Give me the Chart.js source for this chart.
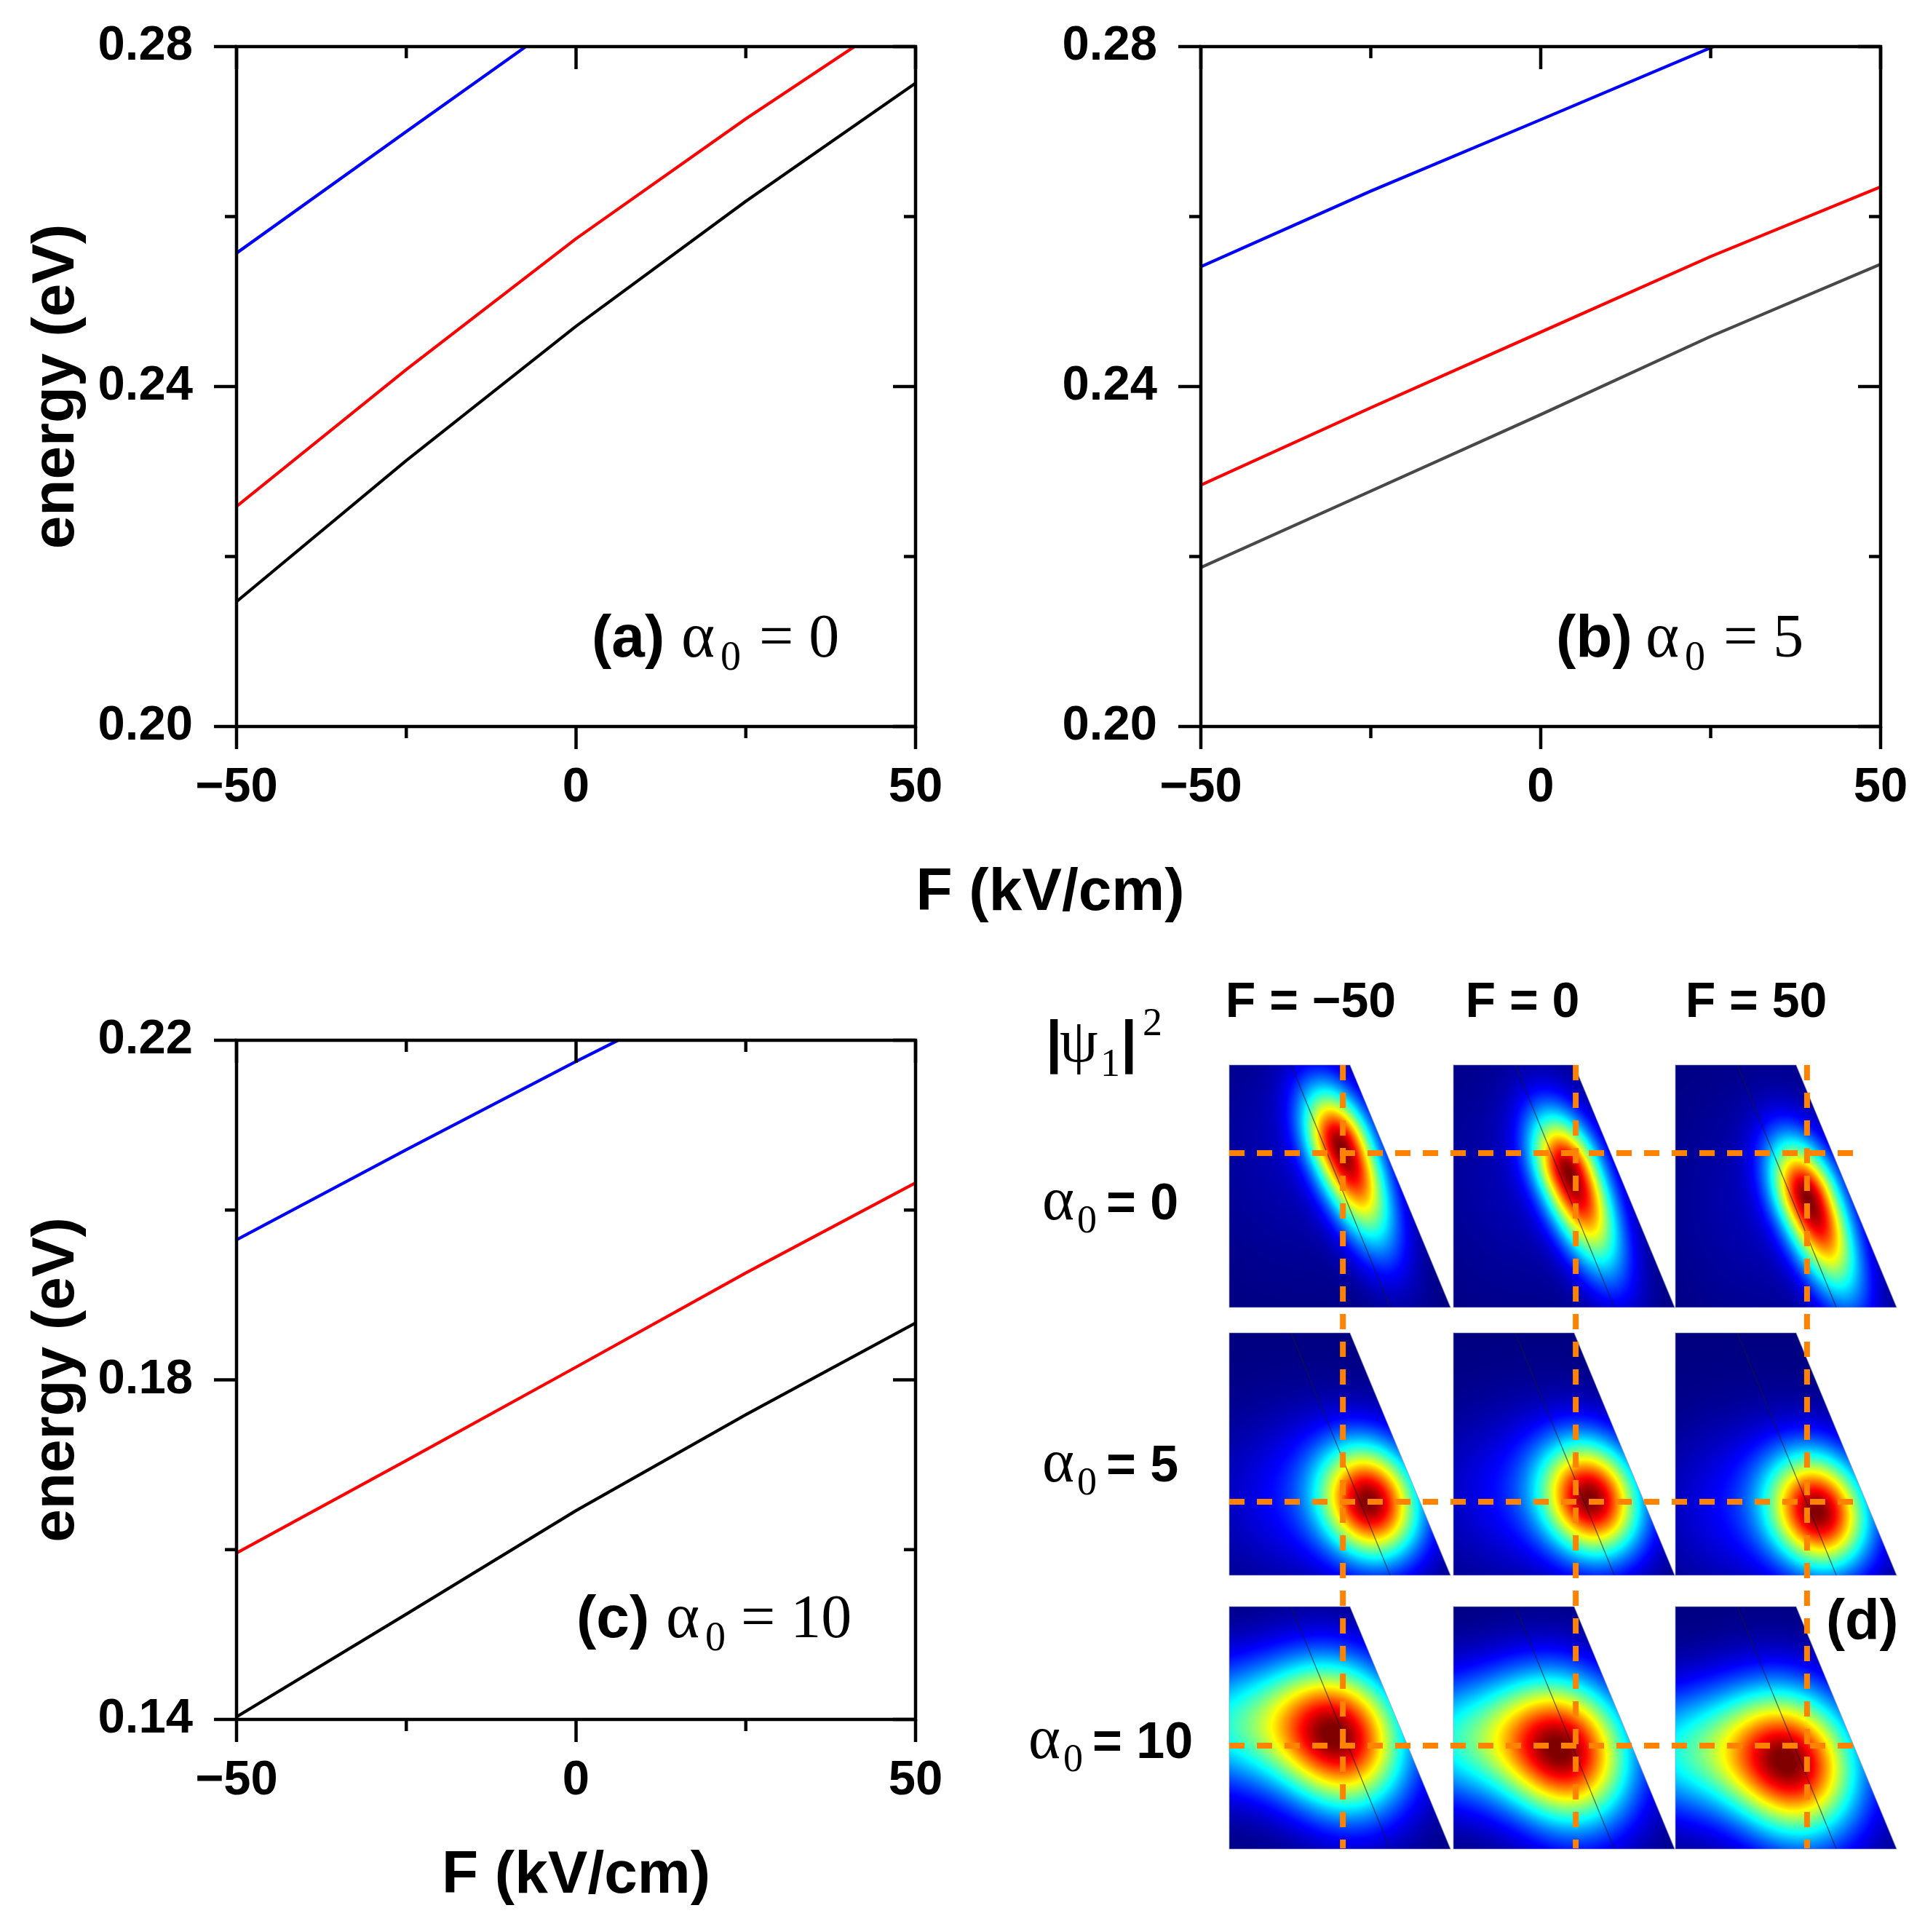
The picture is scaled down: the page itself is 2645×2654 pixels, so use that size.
<!DOCTYPE html>
<html>
<head>
<meta charset="utf-8">
<script src="https://cdn.jsdelivr.net/npm/chart.js@4.4.1/dist/chart.umd.min.js"></script>
<style>
html,body{margin:0;padding:0;background:#fff;}
#page{position:relative;width:2645px;height:2654px;overflow:hidden;background:#fff;}
canvas{position:absolute;}
svg{position:absolute;left:0;top:0;pointer-events:none;}
.sans{font-family:'Liberation Sans',Arial,sans-serif;font-weight:bold;}
.serif{font-family:'Liberation Serif','Times New Roman',serif;font-weight:normal;}
</style>
</head>
<body>
<div id="page">
<canvas id="cA" width="1320" height="1150" style="left:0px;top:0px"></canvas>
<canvas id="cB" width="1325" height="1150" style="left:1320px;top:0px"></canvas>
<canvas id="cC" width="1320" height="1354" style="left:0px;top:1300px"></canvas>
<canvas id="cD" width="1045" height="1220" style="left:1600px;top:1400px"></canvas>
<svg width="2645" height="2654" xmlns="http://www.w3.org/2000/svg">
  <text class="sans" x="1443" y="1250" font-size="82" text-anchor="middle">F (kV/cm)</text>

  <text y="902"><tspan class="sans" x="813" font-size="82">(a)</tspan><tspan class="serif" x="936" font-size="88">α</tspan><tspan class="serif" x="990" dy="18" font-size="56">0</tspan><tspan class="serif" x="1043" dy="-18" font-size="84">= 0</tspan></text>
  <text y="902"><tspan class="sans" x="2138" font-size="82">(b)</tspan><tspan class="serif" x="2261" font-size="88">α</tspan><tspan class="serif" x="2315" dy="18" font-size="56">0</tspan><tspan class="serif" x="2368" dy="-18" font-size="84">= 5</tspan></text>
  <text y="2249"><tspan class="sans" x="792" font-size="82">(c)</tspan><tspan class="serif" x="915" font-size="88">α</tspan><tspan class="serif" x="969" dy="18" font-size="56">0</tspan><tspan class="serif" x="1018" dy="-18" font-size="84">= 10</tspan></text>

  <text class="sans" x="1801" y="1397" font-size="68" text-anchor="middle">F = −50</text>
  <text class="sans" x="2092" y="1397" font-size="68" text-anchor="middle">F = 0</text>
  <text class="sans" x="2413" y="1397" font-size="68" text-anchor="middle">F = 50</text>

  <text y="1458"><tspan class="sans" x="1437" font-size="80">|</tspan><tspan class="serif" x="1456" font-size="84">ψ</tspan><tspan class="serif" x="1512" dy="20" font-size="54">1</tspan><tspan class="sans" x="1540" dy="-20" font-size="80">|</tspan><tspan class="serif" x="1570" dy="-36" font-size="54">2</tspan></text>

  <text y="1675"><tspan class="serif" x="1432" font-size="84">α</tspan><tspan class="serif" x="1480" dy="18" font-size="54">0</tspan><tspan class="sans" x="1520" dy="-18" font-size="70">= 0</tspan></text>
  <text y="2035"><tspan class="serif" x="1432" font-size="84">α</tspan><tspan class="serif" x="1480" dy="18" font-size="54">0</tspan><tspan class="sans" x="1520" dy="-18" font-size="70">= 5</tspan></text>
  <text y="2415"><tspan class="serif" x="1413" font-size="84">α</tspan><tspan class="serif" x="1461" dy="18" font-size="54">0</tspan><tspan class="sans" x="1501" dy="-18" font-size="70">= 10</tspan></text>

  <text class="sans" x="2509" y="2252" font-size="78">(d)</text>
</svg>
</div>
<script>
// ---------------- data: panels (a)-(c) ----------------
const xMajorTicks = [-50, 0, 50];
const xMinorTicks = [-25, 25];
const xTickLabels = ['−50', '0', '50'];

const yMajorAB = [0.20, 0.24, 0.28];
const yMinorAB = [0.22, 0.26];
const yLabelsAB = ['0.20', '0.24', '0.28'];
const yMajorC = [0.14, 0.18, 0.22];
const yMinorC = [0.16, 0.20];
const yLabelsC = ['0.14', '0.18', '0.22'];

// (a) alpha0 = 0
const fieldA_black = [-50, -25, 0, 25, 50];
const energyA_black = [0.2147, 0.2313, 0.2471, 0.2618, 0.2757];
const fieldA_red = [-50, -25, 0, 25, 41];
const energyA_red = [0.2259, 0.2420, 0.2574, 0.2715, 0.2800];
const fieldA_blue = [-50, -25, -7.4];
const energyA_blue = [0.2557, 0.2700, 0.2800];

// (b) alpha0 = 5
const fieldB_black = [-50, -25, 0, 25, 50];
const energyB_black = [0.2187, 0.2277, 0.2367, 0.2459, 0.2544];
const fieldB_red = [-50, -25, 0, 25, 50];
const energyB_red = [0.2284, 0.2375, 0.2464, 0.2553, 0.2635];
const fieldB_blue = [-50, -25, 0, 25.4];
const energyB_blue = [0.2541, 0.2630, 0.2714, 0.2800];

// (c) alpha0 = 10
const fieldC_black = [-50, -25, 0, 25, 50];
const energyC_black = [0.1403, 0.1524, 0.1646, 0.1759, 0.1867];
const fieldC_red = [-50, -25, 0, 25, 50];
const energyC_red = [0.1596, 0.1705, 0.1815, 0.1926, 0.2032];
const fieldC_blue = [-50, -25, 0, 6.2];
const energyC_blue = [0.1965, 0.2071, 0.2175, 0.2200];

// ---------------- data: panel (d), |psi1|^2 maps ----------------
// rows: alpha0 = 0, 5, 10 ; columns: F = -50, 0, 50 ; positions in cell-width units
const psiPeakU = [[0.507, 0.523, 0.599], [0.635, 0.622, 0.645], [0.507, 0.510, 0.533]];
const psiPeakV = [[0.375, 0.490, 0.605], [0.763, 0.750, 0.806], [0.605, 0.668, 0.724]];
const psiSpreadUp = [0.188, 0.18, 0.235];
const psiSpreadDown = [0.30, 0.18, 0.235];
const psiSpreadAcross = [0.095, 0.145, 0.19];
const haloAmp = [0.06, 0.16, 0.55];
const haloShiftU = [-0.15, -0.25, -0.36];
const haloShiftV = [0.0, -0.03, -0.07];
const haloSpreadU = [0.30, 0.30, 0.36];
const haloSpreadV = [0.35, 0.25, 0.20];
// dashed guide lines (peak positions at F = -50 / row positions)
const guideX = [0.512, 1.561, 2.603];
const guideY = [0.397, 1.967, 3.066];

// ---------------- drawing ----------------
Chart.defaults.color = '#000';
const TICK_FONT = {family: "'Liberation Sans', Arial, sans-serif", size: 67, weight: 'bold'};
const TITLE_FONT = {family: "'Liberation Sans', Arial, sans-serif", size: 82, weight: 'bold'};

function pts(xs, ys) { return xs.map((v, i) => ({x: v, y: ys[i]})); }

const frameTicks = {
  id: 'frameTicks',
  afterDatasetsDraw(chart, args, o) {
    const {ctx, chartArea: a, scales: {x, y}} = chart;
    ctx.save();
    ctx.strokeStyle = '#000';
    ctx.lineWidth = 4.5;
    ctx.lineCap = 'square';
    ctx.strokeRect(a.left, a.top, a.right - a.left, a.bottom - a.top);
    ctx.lineCap = 'butt';
    const seg = (x1, y1, x2, y2) => { ctx.beginPath(); ctx.moveTo(x1, y1); ctx.lineTo(x2, y2); ctx.stroke(); };
    const MAJ = 31, MIN = 16;
    [[o.xMajor, MAJ], [o.xMinor, MIN]].forEach(([vals, len]) => vals.forEach(v => {
      const p = x.getPixelForValue(v);
      seg(p, a.bottom, p, a.bottom + len);
      seg(p, a.top, p, a.top + len);
    }));
    [[o.yMajor, MAJ], [o.yMinor, MIN]].forEach(([vals, len]) => vals.forEach(v => {
      const p = y.getPixelForValue(v);
      seg(a.left - len, p, a.left, p);
      seg(a.right - len, p, a.right, p);
    }));
    ctx.restore();
  }
};

function energyChart(id, cfg) {
  return new Chart(document.getElementById(id), {
    type: 'line',
    data: {
      datasets: cfg.series.map(s => ({
        data: pts(s.f, s.e), borderColor: s.color, borderWidth: 4.2,
        pointRadius: 0, tension: 0, fill: false, borderJoinStyle: 'round'
      }))
    },
    options: {
      responsive: false, animation: false, devicePixelRatio: 1, events: [],
      layout: {padding: cfg.padding},
      plugins: {
        legend: {display: false}, tooltip: {enabled: false},
        frameTicks: {xMajor: xMajorTicks, xMinor: xMinorTicks, yMajor: cfg.yMajor, yMinor: cfg.yMinor}
      },
      scales: {
        x: {
          type: 'linear', min: -50, max: 50,
          grid: {display: false, drawTicks: true, tickLength: 44}, border: {display: false},
          afterBuildTicks: s => { s.ticks = xMajorTicks.map(v => ({value: v})); },
          afterFit: s => { s.height = cfg.xHeight; },
          ticks: {font: TICK_FONT, color: '#000', padding: 0, maxRotation: 0, autoSkip: false,
                  callback: (v, i) => xTickLabels[i]},
          title: cfg.xTitle ? {display: true, text: 'F (kV/cm)', font: TITLE_FONT, color: '#000',
                               padding: {top: 0, bottom: 27}} : {display: false}
        },
        y: {
          type: 'linear', min: cfg.yMajor[0], max: cfg.yMajor[cfg.yMajor.length - 1],
          grid: {display: false, drawTicks: true, tickLength: 60}, border: {display: false},
          afterBuildTicks: s => { s.ticks = cfg.yMajor.map(v => ({value: v})); },
          afterFit: s => { s.width = cfg.yWidth; },
          ticks: {font: TICK_FONT, color: '#000', padding: 0, autoSkip: false,
                  callback: (v, i) => cfg.yLabels[i]},
          title: cfg.yTitle ? {display: true, text: 'energy (eV)', font: TITLE_FONT, color: '#000',
                               padding: {top: 29, bottom: 0}} : {display: false}
        }
      }
    },
    plugins: [frameTicks]
  });
}

energyChart('cA', {
  padding: {left: 0, top: 64, right: 62, bottom: 0}, xHeight: 152, yWidth: 325,
  yMajor: yMajorAB, yMinor: yMinorAB, yLabels: yLabelsAB, yTitle: true, xTitle: false,
  series: [
    {f: fieldA_black, e: energyA_black, color: '#000000'},
    {f: fieldA_red, e: energyA_red, color: '#ff0000'},
    {f: fieldA_blue, e: energyA_blue, color: '#0000ff'}
  ]
});
energyChart('cB', {
  padding: {left: 0, top: 64, right: 61, bottom: 0}, xHeight: 152, yWidth: 330,
  yMajor: yMajorAB, yMinor: yMinorAB, yLabels: yLabelsAB, yTitle: false, xTitle: false,
  series: [
    {f: fieldB_black, e: energyB_black, color: '#484848'},
    {f: fieldB_red, e: energyB_red, color: '#ff0000'},
    {f: fieldB_blue, e: energyB_blue, color: '#0000ff'}
  ]
});
energyChart('cC', {
  padding: {left: 0, top: 129, right: 62, bottom: 0}, xHeight: 292, yWidth: 325,
  yMajor: yMajorC, yMinor: yMinorC, yLabels: yLabelsC, yTitle: true, xTitle: true,
  series: [
    {f: fieldC_black, e: energyC_black, color: '#000000'},
    {f: fieldC_red, e: energyC_red, color: '#ff0000'},
    {f: fieldC_blue, e: energyC_blue, color: '#0000ff'}
  ]
});

// ---------- panel (d) ----------
const CELL_W = 0.997, CELL_H = 1.092, TOP_W = 0.544;
const cellLeft = [0, 1.01, 2.01];
const cellTop = [0, 1.207, 2.439];
const IF_TOP = 0.279, IF_BOT = 0.725;
const TILT = 22 * Math.PI / 180, SN = Math.sin(TILT), CS = Math.cos(TILT);
const Y_MAX = 3.528;

function jet(t) {
  t = Math.max(0, Math.min(1, t));
  const f = q => Math.max(0, Math.min(1, 1.5 - Math.abs(4 * t - q)));
  return [f(3) * 255, f(2) * 255, f(1) * 255];
}
function psiValue(r, c, u, v) {
  const du = u - psiPeakU[r][c], dv = v - psiPeakV[r][c];
  const a = du * SN + dv * CS, b = du * CS - dv * SN;
  const sa = a < 0 ? psiSpreadUp[r] : psiSpreadDown[r];
  const sb = psiSpreadAcross[r];
  const core = Math.exp(-(a * a / (2 * sa * sa) + b * b / (2 * sb * sb)));
  const hu = du - haloShiftU[r], hv = dv - haloShiftV[r];
  const su = haloSpreadU[r], sv = haloSpreadV[r];
  const halo = haloAmp[r] * Math.exp(-(hu * hu / (2 * su * su) + hv * hv / (2 * sv * sv)));
  const norm = 1 + haloAmp[r] * Math.exp(-(haloShiftU[r] ** 2 / (2 * su * su) + haloShiftV[r] ** 2 / (2 * sv * sv)));
  return (core + halo) / norm;
}

const psiMaps = {
  id: 'psiMaps',
  beforeDatasetsDraw(chart) {
    const {ctx, scales: {x, y}} = chart;
    const unit = x.getPixelForValue(1) - x.getPixelForValue(0);
    for (let r = 0; r < 3; r++) for (let c = 0; c < 3; c++) {
      const x0 = Math.round(x.getPixelForValue(cellLeft[c]));
      const y0 = Math.round(y.getPixelForValue(cellTop[r]));
      const w = Math.round(CELL_W * unit), h = Math.round(CELL_H * unit);
      const off = document.createElement('canvas');
      off.width = w; off.height = h;
      const octx = off.getContext('2d');
      const img = octx.createImageData(w, h);
      const d = img.data;
      for (let j = 0; j < h; j++) {
        const v = (j + 0.5) / unit;
        const xr = (TOP_W + (CELL_W - TOP_W) * (v / CELL_H)) * unit;
        for (let i = 0; i < w; i++) {
          const cov = Math.max(0, Math.min(1, xr - i));
          if (cov <= 0) continue;
          const u = (i + 0.5) / unit;
          const col = jet(psiValue(r, c, u, v));
          const k = (j * w + i) * 4;
          d[k] = col[0]; d[k + 1] = col[1]; d[k + 2] = col[2]; d[k + 3] = 255 * cov;
        }
      }
      octx.putImageData(img, 0, 0);
      ctx.drawImage(off, x0, y0);
      ctx.save();
      ctx.strokeStyle = 'rgba(25,25,45,0.55)';
      ctx.lineWidth = 1.5;
      ctx.beginPath();
      ctx.moveTo(x0 + IF_TOP * unit, y0);
      ctx.lineTo(x0 + IF_BOT * unit, y0 + h);
      ctx.stroke();
      ctx.strokeStyle = 'rgba(150,150,170,0.6)';
      ctx.lineWidth = 1.2;
      ctx.beginPath();
      ctx.moveTo(x0, y0 + h); ctx.lineTo(x0, y0); ctx.lineTo(x0 + TOP_W * unit, y0);
      ctx.lineTo(x0 + w, y0 + h); ctx.closePath();
      ctx.stroke();
      ctx.restore();
    }
  }
};

const guideStyle = {borderColor: '#ff8200', borderWidth: 8, borderDash: [21, 17], borderCapStyle: 'butt',
                    pointRadius: 0, tension: 0, fill: false, clip: false};
const guideSets = [
  ...guideX.map(gx => Object.assign({data: [{x: gx, y: 0}, {x: gx, y: Y_MAX}]}, guideStyle)),
  ...guideY.map(gy => Object.assign({data: [{x: 0, y: gy}, {x: 2.82, y: gy}]}, guideStyle))
];

new Chart(document.getElementById('cD'), {
  type: 'line',
  data: {datasets: guideSets},
  options: {
    responsive: false, animation: false, devicePixelRatio: 1, events: [],
    layout: {padding: {left: 89, top: 63, right: 41, bottom: 81}},
    plugins: {legend: {display: false}, tooltip: {enabled: false}},
    scales: {
      x: {type: 'linear', display: false, min: 0, max: 3},
      y: {type: 'linear', display: false, min: 0, max: Y_MAX, reverse: true}
    }
  },
  plugins: [psiMaps]
});
</script>
</body>
</html>
